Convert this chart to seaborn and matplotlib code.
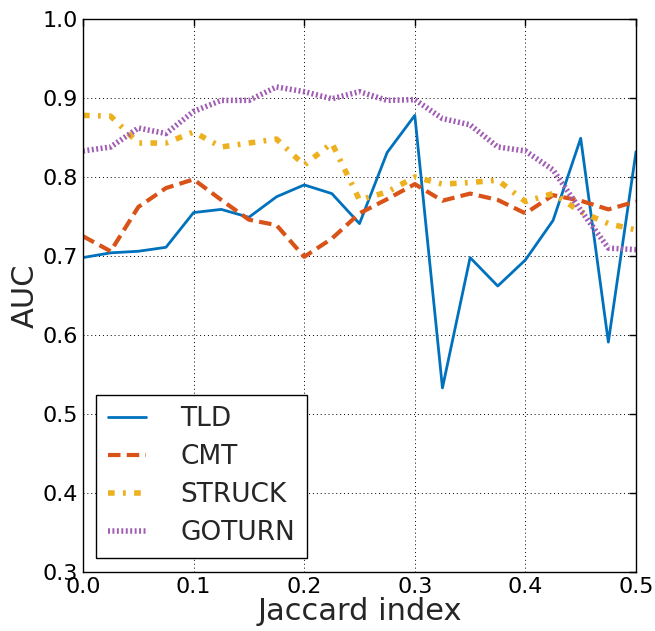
import numpy as np
import pandas as pd
import matplotlib
matplotlib.use("Agg")
import matplotlib.pyplot as plt
import seaborn as sns

# Jaccard index thresholds
jaccard = [0.0, 0.025, 0.05, 0.075, 0.1, 0.125, 0.15, 0.175, 0.2, 0.225, 0.25,
           0.275, 0.3, 0.325, 0.35, 0.375, 0.4, 0.425, 0.45, 0.475, 0.5]

# AUC per tracker
tld = [0.698, 0.704, 0.706, 0.711, 0.755, 0.759, 0.749, 0.775, 0.790, 0.779, 0.741,
       0.831, 0.878, 0.533, 0.698, 0.662, 0.695, 0.745, 0.849, 0.591, 0.832]
cmt = [0.725, 0.706, 0.762, 0.786, 0.797, 0.771, 0.746, 0.739, 0.699, 0.722, 0.754,
       0.772, 0.791, 0.770, 0.779, 0.771, 0.754, 0.777, 0.770, 0.759, 0.769]
struck = [0.878, 0.877, 0.843, 0.843, 0.857, 0.838, 0.843, 0.848, 0.815, 0.843, 0.771,
          0.781, 0.800, 0.791, 0.793, 0.796, 0.769, 0.779, 0.756, 0.741, 0.733]
goturn = [0.833, 0.838, 0.862, 0.855, 0.883, 0.897, 0.897, 0.914, 0.908, 0.899, 0.908,
          0.897, 0.898, 0.874, 0.866, 0.838, 0.833, 0.809, 0.758, 0.710, 0.708]

trackers = ["TLD", "CMT", "STRUCK", "GOTURN"]
colors = ["#0072BD", "#D95319", "#EDB120", "#A15DB4"]
widths = [2.0, 3.0, 4.0, 4.0]
dashes = [(None, None), (3, 1.5), (1.2, 1.5, 0.5, 1.5), (0.35, 0.45)]

df = pd.DataFrame({
    "Jaccard index": jaccard * 4,
    "AUC": tld + cmt + struck + goturn,
    "Tracker": sum([[t] * len(jaccard) for t in trackers], []),
})

sns.set_style("white")
plt.rcParams["font.family"] = ["DejaVu Sans"]

fig = plt.figure(figsize=(6.55, 6.31), dpi=100)
ax = fig.add_axes([83 / 655, 1 - 572 / 631, 553 / 655, 553 / 631])

for t, c, lw, ds in zip(trackers, colors, widths, dashes):
    sub = df[df["Tracker"] == t]
    sns.lineplot(data=sub, x="Jaccard index", y="AUC", ax=ax, color=c,
                 linewidth=lw, label=t, estimator=None)
    line = ax.get_lines()[-1]
    if ds[0] is not None:
        line.set_dashes(ds)
        line.set_dash_capstyle("butt")

ax.set_xlim(0, 0.5)
ax.set_ylim(0.3, 1.0)
ax.set_xticks(np.arange(0, 0.51, 0.1))
ax.set_yticks(np.arange(0.3, 1.01, 0.1))
ax.set_xticklabels([f"{v:.1f}" for v in np.arange(0, 0.51, 0.1)])
ax.set_yticklabels([f"{v:.1f}" for v in np.arange(0.3, 1.01, 0.1)])
ax.tick_params(direction="in", top=True, right=True, length=5, width=1,
               labelsize=16, pad=3.5, colors="black")
ax.grid(True, color="black", linestyle=(0, (1, 3)), linewidth=0.7)
for s in ax.spines.values():
    s.set_color("black")
    s.set_linewidth(1)
ax.set_xlabel("Jaccard index", fontsize=22, labelpad=0)
ax.set_ylabel("AUC", fontsize=22, labelpad=2)

leg = ax.legend(loc="lower left", bbox_to_anchor=(13 / 553, 14 / 553),
                borderaxespad=0, fontsize=19, frameon=True, fancybox=False,
                handlelength=1.45, borderpad=0.45, labelspacing=0.45,
                handletextpad=1.3)
leg.get_frame().set_edgecolor("black")
leg.get_frame().set_linewidth(1)
leg.get_frame().set_alpha(1)

fig.savefig("out.png", dpi=100)
